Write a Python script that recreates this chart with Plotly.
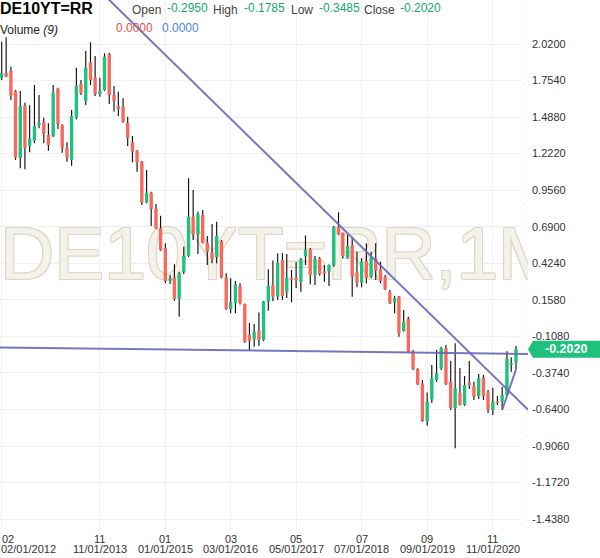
import pandas as pd
import plotly.graph_objects as go

# ---------------- data (monthly candles, DE10YT=RR) ----------------
START = "2012-02-01"
OPEN = [1.775, 1.811, 1.824, 1.678, 1.193, 1.574, 1.280, 1.316, 1.430, 1.452,
        1.358, 1.350, 1.695, 1.430, 1.265, 1.176, 1.484, 1.729, 1.605, 1.887,
        1.775, 1.656, 1.685, 1.947, 1.649, 1.569, 1.562, 1.447, 1.305, 1.241,
        1.163, 0.868, 0.938, 0.819, 0.679, 0.537, 0.297, 0.319, 0.164, 0.363,
        0.477, 0.763, 0.635, 0.775, 0.574, 0.501, 0.468, 0.586, 0.319, 0.091,
        0.133, 0.261, 0.128, -0.098, -0.127, -0.069, -0.134, 0.144, 0.266, 0.182,
        0.448, 0.217, 0.319, 0.319, 0.290, 0.472, 0.526, 0.339, 0.460, 0.363,
        0.363, 0.412, 0.690, 0.647, 0.465, 0.557, 0.356, 0.283, 0.441, 0.326,
        0.460, 0.380, 0.322, 0.217, 0.137, 0.181, -0.069, 0.018, -0.220, -0.345,
        -0.450, -0.724, -0.566, -0.425, -0.340, -0.195, -0.438, -0.631, -0.518, -0.607,
        -0.445, -0.469, -0.542, -0.406, -0.518, -0.644, -0.583, -0.583, -0.535, -0.316,
        -0.2950]
HIGH = [2.037, 2.069, 1.855, 1.685, 1.678, 1.593, 1.574, 1.722, 1.649, 1.484,
        1.443, 1.722, 1.702, 1.436, 1.305, 1.540, 1.848, 1.758, 1.969, 2.032,
        1.933, 1.775, 1.952, 1.957, 1.714, 1.673, 1.625, 1.491, 1.350, 1.249,
        1.168, 1.103, 0.945, 0.856, 0.770, 0.570, 0.339, 0.417, 0.363, 0.545,
        1.043, 0.957, 0.799, 0.812, 0.623, 0.710, 0.727, 0.594, 0.351, 0.315,
        0.295, 0.278, 0.131, -0.011, -0.018, 0.066, 0.150, 0.380, 0.444, 0.495,
        0.497, 0.492, 0.375, 0.433, 0.463, 0.626, 0.535, 0.477, 0.470, 0.412,
        0.415, 0.695, 0.795, 0.647, 0.630, 0.618, 0.508, 0.460, 0.570, 0.508,
        0.570, 0.436, 0.339, 0.230, 0.188, 0.186, 0.084, 0.035, -0.207, -0.340,
        -0.425, -0.516, -0.316, -0.207, -0.183, -0.171, -0.287, -0.158, -0.338, -0.396,
        -0.287, -0.438, -0.382, -0.389, -0.498, -0.482, -0.542, -0.476, -0.217, -0.260,
        -0.1785]
LOW = [1.758, 1.780, 1.612, 1.176, 1.115, 1.108, 1.232, 1.297, 1.406, 1.297,
       1.243, 1.343, 1.401, 1.229, 1.163, 1.134, 1.472, 1.649, 1.576, 1.722,
       1.642, 1.636, 1.678, 1.583, 1.527, 1.496, 1.447, 1.278, 1.159, 1.091,
       0.848, 0.861, 0.695, 0.674, 0.516, 0.278, 0.273, 0.152, 0.035, 0.346,
       0.470, 0.594, 0.492, 0.570, 0.412, 0.424, 0.424, 0.315, 0.086, 0.060,
       0.060, 0.124, -0.154, -0.207, -0.183, -0.176, -0.142, 0.079, 0.150, 0.157,
       0.157, 0.171, 0.140, 0.244, 0.217, 0.412, 0.270, 0.266, 0.335, 0.290,
       0.259, 0.399, 0.630, 0.460, 0.459, 0.181, 0.249, 0.249, 0.278, 0.315,
       0.302, 0.278, 0.230, 0.128, 0.060, -0.110, -0.074, -0.222, -0.353, -0.462,
       -0.729, -0.758, -0.593, -0.438, -0.353, -0.462, -0.644, -0.922, -0.611, -0.615,
       -0.491, -0.571, -0.564, -0.571, -0.666, -0.680, -0.607, -0.644, -0.542, -0.365,
       -0.3485]
CLOSE = [1.807, 1.782, 1.644, 1.193, 1.569, 1.265, 1.329, 1.423, 1.447, 1.365,
         1.285, 1.666, 1.438, 1.265, 1.193, 1.496, 1.717, 1.663, 1.848, 1.758,
         1.656, 1.678, 1.928, 1.649, 1.605, 1.547, 1.454, 1.338, 1.236, 1.159,
         0.868, 0.938, 0.819, 0.679, 0.521, 0.295, 0.315, 0.164, 0.351, 0.477,
         0.763, 0.635, 0.783, 0.574, 0.508, 0.455, 0.623, 0.319, 0.091, 0.140,
         0.271, 0.133, -0.147, -0.139, -0.074, -0.134, 0.147, 0.259, 0.182, 0.426,
         0.186, 0.321, 0.302, 0.299, 0.453, 0.521, 0.339, 0.457, 0.346, 0.351,
         0.412, 0.690, 0.635, 0.477, 0.550, 0.326, 0.283, 0.436, 0.315, 0.465,
         0.370, 0.295, 0.235, 0.133, 0.169, -0.086, -0.001, -0.220, -0.345, -0.457,
         -0.724, -0.586, -0.413, -0.377, -0.195, -0.455, -0.631, -0.486, -0.607, -0.462,
         -0.466, -0.547, -0.413, -0.544, -0.644, -0.583, -0.591, -0.535, -0.268, -0.304,
         -0.2020]

Y_TICKS = [2.02, 1.754, 1.488, 1.222, 0.956, 0.69, 0.424, 0.158, -0.108,
           -0.374, -0.64, -0.906, -1.172, -1.438]
Y_TICK_TEXT = ["2.0200", "1.7540", "1.4880", "1.2220", "0.9560", "0.6900", "0.4240",
               "0.1580", "-0.1080", "-0.3740", "-0.6400", "-0.9060", "-1.1720", "-1.4380"]
X_TICKS = ["2012-02-01", "2013-11-01", "2015-01-01", "2016-03-01",
           "2017-05-01", "2018-07-01", "2019-09-01", "2020-11-01"]
X_TICK_TOP = ["02", "11", "01", "03", "05", "07", "09", "11"]
X_TICK_BOTTOM = ["02/01/2012", "11/01/2013", "01/01/2015", "03/01/2016",
                 "05/01/2017", "07/01/2018", "09/01/2019", "11/01/2020"]

# drawn trend lines (date, value)
TREND_DOWN_X = ["2013-12-23", "2021-06-18"]
TREND_DOWN_Y = [2.350, -0.642]
TREND_FLAT_X = ["2012-01-21", "2021-06-18"]
TREND_FLAT_Y = [-0.188, -0.236]
TREND_UP_X = ["2021-01-01", "2021-04-01"]
TREND_UP_Y = [-0.644, -0.3485]

X_RANGE = ["2012-01-21", "2021-06-18"]
Y_RANGE = [-1.5244, 2.3402]

SYMBOL = "DE10YT=RR"
WATERMARK = "DE10YT=RR,1M"

# ---------------- styles ----------------
GREEN = "#1ec27c"
RED = "#f8685d"
VALUE_GREEN = "#17a86a"
LINE_COL = "rgba(104,104,184,0.9)"
GRID = "#f0f0f0"
FONT = "Liberation Sans, Arial, sans-serif"
W, H = 600, 558
ML, MR, MT, MB = 0, 72, 0, 27
PW, PH = W - ML - MR, H - MT - MB

dates = pd.date_range(START, periods=len(OPEN), freq="MS")
DAY = 86400000
body_w = 22 * DAY
wick_w = 7.5 * DAY

fig = go.Figure()

# ---- base layer (x, y): hatch + watermark ----
hatch_start = dates[-1] + pd.Timedelta(days=26)
x_end = pd.Timestamp(X_RANGE[1])
hx = [hatch_start, x_end, x_end, hatch_start, hatch_start]
hy = [Y_RANGE[0], Y_RANGE[0], Y_RANGE[1], Y_RANGE[1], Y_RANGE[0]]
fig.add_trace(go.Scatter(x=hx, y=hy, mode="lines", fill="toself", line=dict(width=0),
                         fillcolor="rgba(0,0,0,0)",
                         fillpattern=dict(shape="/", fgcolor="#e2e2e2", bgcolor="white",
                                          size=5, solidity=0.15),
                         hoverinfo="skip", showlegend=False))

x0 = pd.Timestamp(X_RANGE[0])
wm_y = Y_RANGE[1] - (Y_RANGE[1] - Y_RANGE[0]) * (260 / PH)
oc = "#dcd7c4"
fig.add_trace(go.Scatter(x=[x0], y=[wm_y], mode="text", text=[WATERMARK],
                         textposition="middle right", cliponaxis=True,
                         textfont=dict(family="Liberation Sans, Arial", size=75, color="#f4f2ea",
                                       shadow=f"1px 1px 0 {oc}, -1px -1px 0 {oc}, 1px -1px 0 {oc}, -1px 1px 0 {oc}"),
                         hoverinfo="skip", showlegend=False))

# ---- overlay layer (x2, y2): candles + drawn lines ----
fig.add_trace(go.Bar(x=dates, y=[h - l for h, l in zip(HIGH, LOW)], base=LOW, width=wick_w,
                     marker=dict(color="#111111", line=dict(width=0)),
                     xaxis="x2", yaxis="y2", showlegend=False, hoverinfo="skip"))
base = [min(o, c) for o, c in zip(OPEN, CLOSE)]
size = [max(abs(c - o), 0.012) for o, c in zip(OPEN, CLOSE)]
cols = [GREEN if c >= o else RED for o, c in zip(OPEN, CLOSE)]
fig.add_trace(go.Bar(x=dates, y=size, base=base, width=body_w,
                     marker=dict(color=cols, line=dict(width=0)),
                     xaxis="x2", yaxis="y2", showlegend=False, hoverinfo="skip"))

for tx, ty in [(TREND_DOWN_X, TREND_DOWN_Y), (TREND_FLAT_X, TREND_FLAT_Y), (TREND_UP_X, TREND_UP_Y)]:
    fig.add_trace(go.Scatter(x=tx, y=ty, mode="lines", line=dict(color=LINE_COL, width=2),
                             xaxis="x2", yaxis="y2", hoverinfo="skip", showlegend=False))

fig.update_layout(
    width=W, height=H, margin=dict(l=ML, r=MR, t=MT, b=MB),
    paper_bgcolor="white", plot_bgcolor="white", barmode="overlay", hovermode=False,
    font=dict(family=FONT, size=11, color="#333333"),
    xaxis=dict(type="date", range=X_RANGE, tickvals=X_TICKS, showticklabels=False,
               showgrid=True, gridcolor=GRID, gridwidth=1, zeroline=False, showline=False,
               fixedrange=True),
    yaxis=dict(side="right", range=Y_RANGE, tickvals=Y_TICKS, ticktext=Y_TICK_TEXT,
               showgrid=True, gridcolor=GRID, gridwidth=1, zeroline=False, showline=False,
               ticks="", ticklabelstandoff=3, tickfont=dict(size=11, color="#333333")),
    xaxis2=dict(type="date", overlaying="x", matches="x", visible=False),
    yaxis2=dict(overlaying="y", matches="y", visible=False, side="right"),
    showlegend=False,
)

def py(px):
    return 1 - (px - MT) / PH

# x tick labels (two rows)
for i, (d, t, b) in enumerate(zip(X_TICKS, X_TICK_TOP, X_TICK_BOTTOM)):
    anchor = "left" if i == 0 else "center"
    shift = -3 if i == 0 else 0
    fig.add_annotation(x=d, xref="x", y=py(539), yref="paper", text=t, showarrow=False,
                       xanchor=anchor, yanchor="middle", xshift=shift + (1 if i == 0 else 0),
                       font=dict(size=11, color="#333333"))
    fig.add_annotation(x=d, xref="x", y=py(549), yref="paper", text=b, showarrow=False,
                       xanchor=anchor, yanchor="middle", xshift=shift,
                       font=dict(size=11, color="#333333"))

# header
def head(px, pyy, text, color, size=12, bold=False):
    fig.add_annotation(x=px / PW, xref="paper", y=py(pyy), yref="paper", text=text,
                       showarrow=False, xanchor="left", yanchor="middle",
                       font=dict(size=size, color=color, family=FONT,
                                 weight="bold" if bold else "normal"))

head(-2, 9, SYMBOL, "#000000", size=16, bold=True)
head(130, 10, "Open", "#444444")
head(165, 7.5, f"{OPEN[-1]:.4f}", VALUE_GREEN)
head(211, 10, "High", "#444444")
head(242, 7.5, f"{HIGH[-1]:.4f}", VALUE_GREEN)
head(289, 10, "Low", "#444444")
head(317, 7.5, f"{LOW[-1]:.4f}", VALUE_GREEN)
head(362, 10, "Close", "#444444")
head(398, 7.5, f"{CLOSE[-1]:.4f}", VALUE_GREEN)
head(-2, 30, "Volume <i>(9)</i>", "#222222")
head(114, 28, "0.0000", "#e0524a")
head(160, 28, "0.0000", "#4a86e0")

# current price marker
fig.add_shape(type="path", xref="paper", yref="y", xsizemode="pixel", ysizemode="pixel",
              xanchor=1, yanchor=CLOSE[-1],
              path="M 0,0 L 5,8.5 L 72,8.5 L 72,-8.5 L 5,-8.5 Z",
              fillcolor=GREEN, line=dict(width=0), layer="above")
fig.add_annotation(x=566 / PW, xref="paper", y=CLOSE[-1], yref="y", text=f"{CLOSE[-1]:.4f}",
                   showarrow=False, xanchor="center", yanchor="middle",
                   font=dict(size=12.5, color="white", family=FONT, weight="bold"))

fig.write_html("out.html", config={"displayModeBar": False, "staticPlot": True},
               post_script="document.body.style.margin='0px';")
